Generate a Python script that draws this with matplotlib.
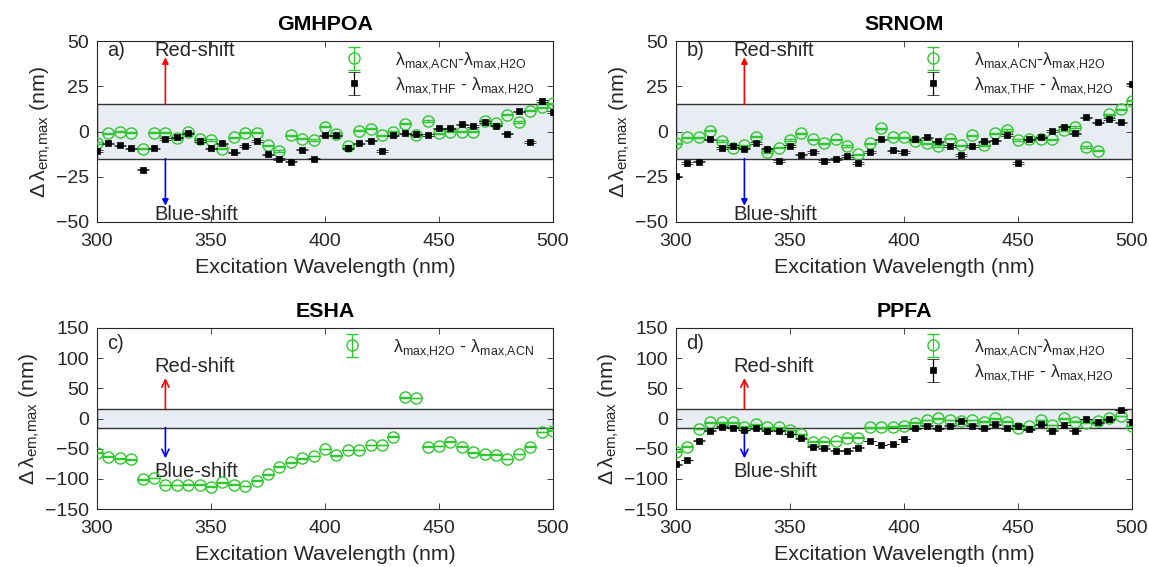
import matplotlib
matplotlib.use('Agg')
import matplotlib.pyplot as plt
from matplotlib.patches import Rectangle
from matplotlib.legend_handler import HandlerErrorbar
from matplotlib.container import ErrorbarContainer

plt.rcParams['font.family'] = ['Liberation Sans', 'DejaVu Sans']
plt.rcParams['mathtext.fontset'] = 'custom'
plt.rcParams['mathtext.rm'] = 'Liberation Sans'
plt.rcParams['mathtext.it'] = 'Liberation Sans:italic'
plt.rcParams['mathtext.bf'] = 'Liberation Sans:bold'

# ---------------- data ----------------
wavelength = [300, 305, 310, 315, 320, 325, 330, 335, 340, 345, 350, 355, 360, 365,
              370, 375, 380, 385, 390, 395, 400, 405, 410, 415, 420, 425, 430, 435,
              440, 445, 450, 455, 460, 465, 470, 475, 480, 485, 490, 495, 500]

gmhpoa_acn = [-6.3, -1, 0, -0.7, -9.5, -0.7, -0.7, -3.5, -0.5, -4, -4.8, -9.5, -3.3, -0.7,
              -0.7, -7.6, -10.8, -2.2, -4, -4.8, 2.7, -1.4, -8.1, 0.5, 1.6, -2.2, -0.3, 4.3,
              -1.9, 5.9, -1, 0, 0, 0, 6, 4.5, 9.3, 5.2, 11.5, 13.4, 15.5]
gmhpoa_thf = [-10.8, -6.6, -7.6, -9.3, -21, -9.3, -4.2, -3.3, -1, -5.3, -9.3, -6.6, -11.5, -8.1,
              -5.3, -12.6, -15.3, -16.6, -10, -15, -2.2, -2.2, -9.3, -6.6, -5.1, -10.8, -2.2, -1,
              -1.6, -1.9, 1.8, 1.8, 4, 3.1, 5.2, 3.3, -1.2, 11.1, -5.7, 16.8, 10.8]

srnom_acn = [-6.6, -3.3, -3.3, 0.5, -5.2, -8.9, -7.6, -2.9, -11.3, -8.9, -4.8, -1, -4.4, -6.6,
             -4.4, -8.1, -12.6, -6.6, 1.8, -3.3, -3.3, -5.5, -6.6, -8.1, -4, -7.6, -2.1, -7.6,
             -1, 0.9, -4.8, -4.4, -4, -4.4, 0.9, 2.4, -8.5, -10.5, 9.5, 12.3, 17.1]
srnom_thf = [-24.8, -17.5, -16.6, -4.4, -9.1, -8.1, -9.5, -6.3, -9.5, -16.4, -8.1, -12.8, -11.3, -16.4,
             -15.1, -13.6, -17.3, -11.3, -4.4, -10.4, -11.3, -4.4, -3.3, -5.5, -8.1, -13.1, -8.1, -5.5,
             -5, -1.9, -17.5, -4.4, -3.3, 0.3, 2.7, -1, 7.8, 5, 6.9, 5, 26.5]

esha_h2o_acn = [-56.6, -63.3, -66, -67.7, -100.8, -99, -110, -110, -109.5, -109.5, -113, -106, -109.5, -112,
                -103, -92.6, -79.8, -72.7, -66, -62.2, -50.6, -61, -52, -52, -44, -44, -30, 35,
                34, -46.6, -45.6, -38.4, -46.6, -56.3, -59.5, -60, -67, -58.8, -46.6, -22, -20]

ppfa_acn = [-55, -46.7, -17.4, -6.4, -6.4, -6.4, -13.5, -9.7, -14.6, -14.6, -19, -25.7, -38.4, -38.4,
            -37.3, -31.8, -31.8, -14.6, -14.6, -13.5, -12, -6.9, -2.5, 0.3, -2.5, -4.1, -2.5, -5.2,
            0.3, -5.2, -16.3, -12.4, -2.5, -10.8, 0.3, -5.2, -6.9, -3.6, 0.3, 4.1, -12.4]
ppfa_thf = [-76, -68.8, -36.8, -20.2, -13.5, -15.2, -19, -16.3, -20.2, -20.2, -25.7, -32.9, -46.6, -49.5,
            -53.3, -53.3, -48.3, -37.3, -43.9, -42.2, -34, -16.3, -11.9, -16.3, -11.9, -3.6, -11.9, -16.3,
            -9.7, -16.3, -11.9, -17.9, -9.7, -20.2, -10.8, -20.2, -0.8, -6.3, -1.4, 14.1, -5.2]

err_size = 0.4

lab_acn = r'$\mathrm{\lambda}_{\mathrm{max{,}ACN}}$-$\mathrm{\lambda}_{\mathrm{max{,}H2O}}$'
lab_thf = r'$\mathrm{\lambda}_{\mathrm{max{,}THF}}$ - $\mathrm{\lambda}_{\mathrm{max{,}H2O}}$'
lab_esha = r'$\mathrm{\lambda}_{\mathrm{max{,}H2O}}$ - $\mathrm{\lambda}_{\mathrm{max{,}ACN}}$'

# ---------------- style ----------------
TXT = '#262626'
GREEN = '#2fc82f'
BAND = '#e8ecf3'
TICK_FS = 14
LAB_FS = 15.4
LEG_FS = 12.8

fig = plt.figure(figsize=(11.49, 5.67), dpi=100)

W = 456 / 1149
H = 181 / 567
positions = {
    'a': [97 / 1149, 1 - 222 / 567, W, H],
    'b': [676 / 1149, 1 - 222 / 567, W, H],
    'c': [97 / 1149, 1 - 509 / 567, W, H],
    'd': [676 / 1149, 1 - 509 / 567, W, H],
}


def make_panel(key, title, series, ylim, yticks, small):
    ax = fig.add_axes(positions[key])
    ax.set_xlim(300, 500)
    ax.set_ylim(*ylim)
    ax.set_xticks([300, 350, 400, 450, 500])
    ax.set_yticks(yticks)
    ax.tick_params(direction='in', top=True, right=True, length=4, width=0.6,
                   labelsize=TICK_FS, colors=TXT)
    ax.tick_params(axis='x', pad=8)
    ax.tick_params(axis='y', pad=6)
    for s in ax.spines.values():
        s.set_color(TXT)
        s.set_linewidth(0.8)
    ax.add_patch(Rectangle((300, -15), 200, 30, facecolor=BAND, edgecolor='#333333',
                           lw=1.0, zorder=1))
    if small:
        red_tip, blue_tip = 41, -41
        red_ty, blue_ty, let_y = 44.8, -45.6, 44.8
        style = '-|>'
        ms_ = 9
    else:
        red_tip, blue_tip = 67, -66
        red_ty, blue_ty, let_y = 87, -88, 125
        style = '->'
        ms_ = 13
    ax.annotate('', xy=(330, red_tip), xytext=(330, 15),
                arrowprops=dict(arrowstyle=style, color='red', lw=1.2,
                                mutation_scale=ms_, shrinkA=0, shrinkB=0), zorder=2)
    ax.annotate('', xy=(330, blue_tip), xytext=(330, -15),
                arrowprops=dict(arrowstyle=style, color='blue', lw=1.2,
                                mutation_scale=ms_, shrinkA=0, shrinkB=0), zorder=2)
    ax.text(325, red_ty, 'Red-shift', fontsize=14.5, color=TXT, va='center', ha='left', zorder=2)
    ax.text(325, blue_ty, 'Blue-shift', fontsize=14.5, color=TXT, va='center', ha='left', zorder=2)
    ax.text(304.5, let_y, key + ')', fontsize=14.5, color=TXT, va='center', ha='left')

    for vals, kind, label in series:
        if kind == 'circle':
            ax.errorbar(wavelength, vals, yerr=err_size, fmt='o', ms=8, mfc='none', mec=GREEN,
                        mew=1.0, ecolor=GREEN, elinewidth=0.9, capsize=4.2, capthick=0.9,
                        label=label, zorder=3)
        else:
            ax.errorbar(wavelength, vals, yerr=err_size, fmt='s', ms=5, mfc='black', mec='black',
                        mew=0.5, ecolor='black', elinewidth=0.9, capsize=4.5, capthick=0.9,
                        label=label, zorder=4)
    ax.legend(loc='upper right', bbox_to_anchor=(0.978, 1.0), frameon=False,
              fontsize=LEG_FS, labelcolor=TXT, borderaxespad=0.1, handlelength=2.0,
              handletextpad=1.3, labelspacing=0.25,
              handler_map={ErrorbarContainer: HandlerErrorbar(xerr_size=0.5, yerr_size=0.65)})
    ax.set_title(title, fontsize=LAB_FS, fontweight='bold', color='black', pad=8)
    ax.set_xlabel('Excitation Wavelength (nm)', fontsize=LAB_FS, color=TXT, labelpad=6)
    ax.set_ylabel(r'$\Delta\,\mathrm{\lambda}_{\mathrm{em{,}max}}$ (nm)', fontsize=LAB_FS,
                  color=TXT, labelpad=2)
    return ax


make_panel('a', 'GMHPOA', [(gmhpoa_acn, 'circle', lab_acn), (gmhpoa_thf, 'square', lab_thf)],
           (-50, 50), [-50, -25, 0, 25, 50], True)
make_panel('b', 'SRNOM', [(srnom_acn, 'circle', lab_acn), (srnom_thf, 'square', lab_thf)],
           (-50, 50), [-50, -25, 0, 25, 50], True)
make_panel('c', 'ESHA', [(esha_h2o_acn, 'circle', lab_esha)],
           (-150, 150), [-150, -100, -50, 0, 50, 100, 150], False)
make_panel('d', 'PPFA', [(ppfa_acn, 'circle', lab_acn), (ppfa_thf, 'square', lab_thf)],
           (-150, 150), [-150, -100, -50, 0, 50, 100, 150], False)

fig.savefig('out.png', dpi=100)
